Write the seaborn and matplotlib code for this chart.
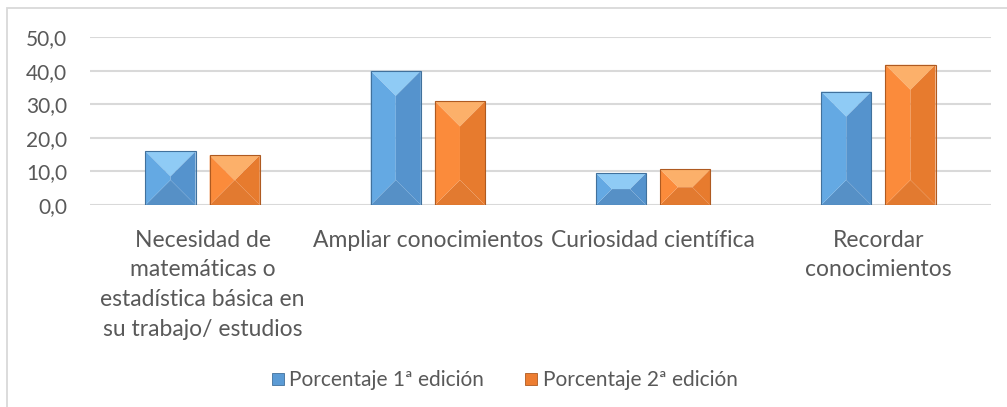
import matplotlib
matplotlib.use("Agg")
import matplotlib.pyplot as plt
from matplotlib.patches import Polygon, Rectangle
from matplotlib.lines import Line2D
import seaborn as sns
import pandas as pd
import numpy as np

# Motivos para realizar el curso (%)
categorias = [
    "Necesidad de\nmatemáticas o\nestadística básica en\nsu trabajo/ estudios",
    "Ampliar conocimientos",
    "Curiosidad científica",
    "Recordar\nconocimientos",
]
series = ["Porcentaje 1ª edición", "Porcentaje 2ª edición"]
edicion_1 = [16.0, 40.0, 9.5, 33.8]
edicion_2 = [14.8, 30.9, 10.6, 41.8]
y_ticks = [0, 10, 20, 30, 40, 50]
y_labels = ["0,0", "10,0", "20,0", "30,0", "40,0", "50,0"]

colores = ["#5b9bd5", "#ed7d31"]
# tonos para el biselado de cada barra: arriba, izquierda, derecha, abajo, borde
bisel = {
    "#5b9bd5": ("#8fcbf5", "#64a9e3", "#5593cd", "#5690c6", "#41719c"),
    "#ed7d31": ("#fcb06a", "#fb8b3b", "#e77b2e", "#e27a30", "#ae5a21"),
}

df = pd.DataFrame({
    "categoria": categorias * 2,
    "serie": [series[0]] * len(categorias) + [series[1]] * len(categorias),
    "valor": edicion_1 + edicion_2,
})

sns.set_theme(style="white")
plt.rcParams["font.family"] = ["Lato", "DejaVu Sans"]

W, H = 1007, 407
fig = plt.figure(figsize=(W / 100, H / 100), dpi=100)
ax = fig.add_axes([90 / W, 1 - 205 / H, (991 - 90) / W, (205 - 37.3) / H])

sns.barplot(data=df, x="categoria", y="valor", hue="serie", order=categorias,
            hue_order=series, palette=colores, width=0.57, gap=0.22,
            saturation=1, ax=ax, legend=False, zorder=3)

ax.set_xlim(-0.5, len(categorias) - 0.5)
ax.set_ylim(0, 50)
ax.set_yticks(y_ticks)
ax.set_yticklabels(y_labels)
ax.set_xlabel("")
ax.set_ylabel("")
ax.grid(axis="y", color="#d9d9d9", lw=1.5, zorder=0)
ax.grid(axis="x", visible=False)
for s in ax.spines.values():
    s.set_visible(False)
ax.tick_params(axis="y", length=0, pad=16.5, labelsize=15, labelcolor="#595959")
ax.tick_params(axis="x", length=0, pad=18, labelsize=16.5, labelcolor="#595959")
for t in ax.get_xticklabels():
    t.set_linespacing(1.5)
    t.set_ha("center")

# biselado de las barras a partir de la geometría de cada patch
fig.canvas.draw()
inv = ax.transData.inverted()
bars = [p for p in ax.patches if isinstance(p, Rectangle)]
for p in bars:
    color = matplotlib.colors.to_hex(p.get_facecolor())
    top_c, left_c, right_c, bot_c, edge_c = bisel[color]
    bb = p.get_window_extent()
    x0, x1, y0, y1 = bb.x0, bb.x1, bb.y0, bb.y1
    xc = (x0 + x1) / 2
    d = min((x1 - x0) / 2, (y1 - y0) / 2)
    faces = [
        ([(x0, y1), (x1, y1), (x1 - d, y1 - d), (x0 + d, y1 - d)], top_c),
        ([(x0, y0), (x1, y0), (x1 - d, y0 + d), (x0 + d, y0 + d)], bot_c),
        ([(x0, y0), (x0 + d, y0 + d), (xc, y0 + d), (xc, y1 - d), (x0 + d, y1 - d), (x0, y1)], left_c),
        ([(x1, y0), (x1 - d, y0 + d), (xc, y0 + d), (xc, y1 - d), (x1 - d, y1 - d), (x1, y1)], right_c),
    ]
    for pts, c in faces:
        pts_d = inv.transform(np.array(pts))
        ax.add_patch(Polygon(pts_d, closed=True, facecolor=c, edgecolor="none", zorder=4))
    p.set_facecolor("none")
    p.set_edgecolor(edge_c)
    p.set_linewidth(0.8)
    p.set_zorder(5)

# leyenda inferior
handles = [Line2D([], [], marker="s", ls="none", markersize=9, markerfacecolor=c,
                  markeredgecolor=bisel[c][4], markeredgewidth=0.6) for c in colores]
fig.legend(handles, series, loc="center", bbox_to_anchor=(503 / W, 1 - 380 / H),
           ncol=2, frameon=False, fontsize=15, handletextpad=0.1, columnspacing=1.8,
           labelcolor="#595959", handlelength=0.9)

# marco del gráfico
fig.patches.append(Rectangle((7 / W, -0.1), 2, 1 - 8 / H + 0.1, transform=fig.transFigure,
                             fill=False, edgecolor="#d9d9d9", lw=1.3))

fig.savefig("out.png", dpi=100)
